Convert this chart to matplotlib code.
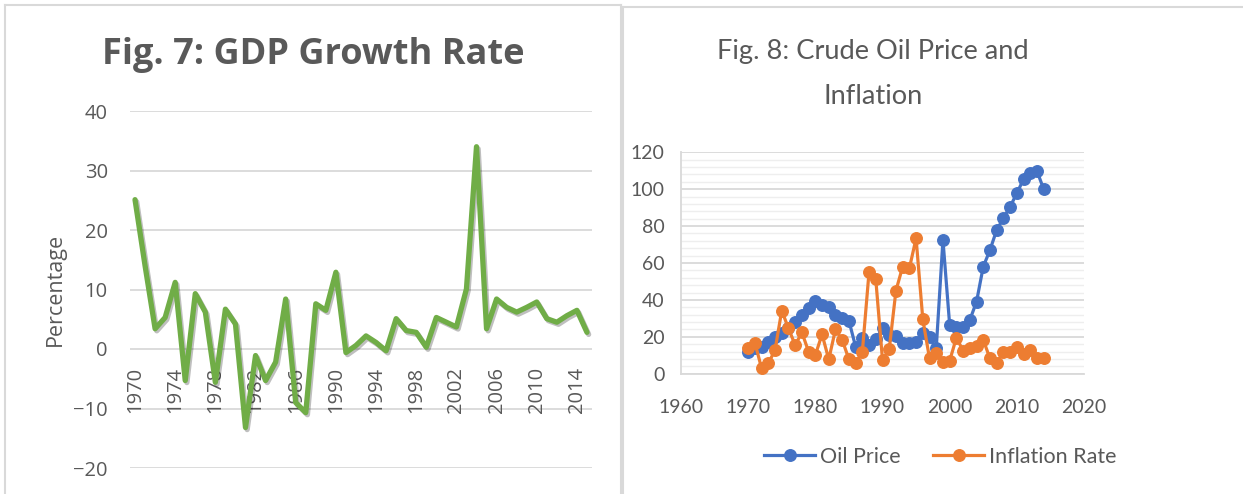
import matplotlib
matplotlib.use("Agg")
import matplotlib.pyplot as plt
import matplotlib.patheffects as pe
from matplotlib.lines import Line2D
from matplotlib.ticker import MultipleLocator
from matplotlib import font_manager as fm
import numpy as np

# ---------------- data ----------------
gdp_years = list(range(1970, 2016))
gdp_growth = [25.1, 14.0, 3.4, 5.3, 11.2, -5.3, 9.3, 6.2, -5.6, 6.7,
              4.2, -13.2, -1.1, -5.3, -2.2, 8.4, -9.0, -10.7, 7.6, 6.5,
              12.9, -0.6, 0.6, 2.2, 1.1, -0.3, 5.1, 3.1, 2.8, 0.3,
              5.3, 4.5, 3.7, 10.1, 34.0, 3.4, 8.4, 7.0, 6.2, 7.0,
              7.9, 5.1, 4.5, 5.6, 6.5, 2.8]
gdp_tick_labels = [str(y) for y in range(1970, 2016, 4)]

oil_years = list(range(1970, 2015))
oil_price = [12.0, 13.7, 14.6, 17.3, 20.0, 21.9, 24.6, 28.2, 31.8, 35.4,
             39.4, 37.2, 36.0, 31.8, 30.0, 28.7, 14.6, 19.2, 15.5, 18.6,
             24.6, 21.0, 20.4, 16.4, 16.4, 17.3, 21.9, 20.0, 13.7, 72.5,
             26.4, 25.5, 25.5, 29.1, 39.0, 58.0, 67.0, 77.9, 84.2, 90.5,
             97.8, 105.4, 108.6, 109.9, 99.9]
inflation = [13.7, 16.8, 2.9, 5.6, 12.8, 34.2, 24.6, 15.5, 22.4, 11.9,
             10.1, 21.3, 7.8, 24.0, 18.3, 7.8, 5.6, 11.9, 55.3, 51.1,
             7.4, 13.2, 45.0, 58.0, 57.1, 73.4, 29.5, 8.3, 11.4, 6.5,
             7.0, 19.5, 12.5, 13.7, 15.0, 18.3, 8.3, 5.6, 11.9, 11.9,
             14.6, 10.7, 12.8, 8.3, 8.3]

# ---------------- styling ----------------
GREEN = "#70AD47"
BLUE = "#4472C4"
ORANGE = "#ED7D31"
TXT = "#595959"
GRID = "#D9D9D9"
MINOR = "#EEEEEE"

def pick_font(cands):
    for c in cands:
        try:
            fm.findfont(fm.FontProperties(family=c), fallback_to_default=False)
            return c
        except Exception:
            continue
    return "DejaVu Sans"

RIGHTF = pick_font(["Lato", "DejaVu Sans"])
LEFTF = pick_font(["Open Sans", "DejaVu Sans"])

W, H = 1243, 494
fig = plt.figure(figsize=(W / 100, H / 100), dpi=100)
fig.patch.set_facecolor("white")

def fx(px):
    return px / W

def fy(py):
    return 1 - py / H

# panel frames
for xs, ys in [([fx(5), fx(5)], [fy(5), fy(500)]),
               ([fx(5), fx(621)], [fy(5), fy(5)]),
               ([fx(621), fx(621)], [fy(5), fy(500)]),
               ([fx(623), fx(623)], [fy(7), fy(500)]),
               ([fx(623), fx(1250)], [fy(7), fy(7)])]:
    fig.add_artist(Line2D(xs, ys, color=GRID, lw=1.5))

# ---------------- left chart ----------------
axL = fig.add_axes([fx(130), fy(468), fx(592) - fx(130), fy(111) - fy(468)])
x = np.arange(len(gdp_years))
axL.plot(x, gdp_growth, color=GREEN, lw=3.8, solid_joinstyle="round",
         solid_capstyle="round", zorder=3,
         path_effects=[pe.SimpleLineShadow(offset=(1.2, -1.5), shadow_color="black", alpha=0.25),
                       pe.Normal()])
axL.set_xlim(-0.5, len(gdp_years) - 0.5)
axL.set_ylim(-20, 40)
axL.set_yticks(range(-20, 41, 10))
axL.yaxis.grid(True, color=GRID, lw=1.3)
axL.set_axisbelow(True)
axL.yaxis.set_zorder(0.5)
axL.xaxis.set_zorder(1.5)
for s in axL.spines.values():
    s.set_visible(False)
axL.spines["bottom"].set_position(("data", 0))
tick_pos = [gdp_years.index(int(t)) for t in gdp_tick_labels]
axL.set_xticks(tick_pos)
axL.set_xticklabels(gdp_tick_labels, rotation=90, va="top", ha="center")
axL.tick_params(axis="x", length=0, pad=13, labelsize=14.5, labelcolor=TXT)
axL.tick_params(axis="y", length=0, pad=16, labelsize=14.5, labelcolor=TXT)
for lab in axL.get_xticklabels() + axL.get_yticklabels():
    lab.set_fontfamily(LEFTF)
fig.text(fx(55), fy(289), "Percentage", rotation=90, ha="center", va="center",
         fontsize=15.5, color=TXT, family=LEFTF)
fig.text(fx(313), fy(55), "Fig. 7: GDP Growth Rate", ha="center", va="center",
         fontsize=26, fontweight="bold", color=TXT, family=LEFTF)

# ---------------- right chart ----------------
axR = fig.add_axes([fx(681), fy(373.7), fx(1084) - fx(681), fy(152.3) - fy(373.7)])
axR.plot(oil_years, oil_price, color=BLUE, lw=2.3, marker="o", markersize=8.3,
         label="Oil Price", zorder=3)
axR.plot(oil_years, inflation, color=ORANGE, lw=2.3, marker="o", markersize=8.3,
         label="Inflation Rate", zorder=4)
axR.set_xlim(1960, 2020)
axR.set_ylim(0, 120)
axR.set_xticks(range(1960, 2021, 10))
axR.set_yticks(range(0, 121, 20))
axR.yaxis.set_minor_locator(MultipleLocator(4))
axR.yaxis.grid(True, which="minor", color=MINOR, lw=1.0)
axR.yaxis.grid(True, which="major", color=GRID, lw=1.3)
axR.set_axisbelow(True)
for k in ["top", "right"]:
    axR.spines[k].set_visible(False)
for k in ["left", "bottom"]:
    axR.spines[k].set_color(GRID)
    axR.spines[k].set_linewidth(1.3)
axR.tick_params(which="both", length=0)
axR.tick_params(axis="x", pad=18, labelsize=14, labelcolor=TXT)
axR.tick_params(axis="y", pad=12, labelsize=14, labelcolor=TXT)
for lab in axR.get_xticklabels() + axR.get_yticklabels():
    lab.set_fontfamily(RIGHTF)
fig.text(fx(873), fy(51), "Fig. 8: Crude Oil Price and", ha="center",
         va="center", fontsize=19.6, color=TXT, family=RIGHTF)
fig.text(fx(873), fy(96), "Inflation", ha="center",
         va="center", fontsize=19.6, color=TXT, family=RIGHTF)
leg = axR.legend(loc="center", bbox_to_anchor=(fx(940), fy(457)),
                 bbox_transform=fig.transFigure, ncol=2, frameon=False,
                 prop={"family": RIGHTF, "size": 15.5}, handlelength=2.4,
                 handletextpad=0.2, columnspacing=1.5)
for t in leg.get_texts():
    t.set_color(TXT)

fig.savefig("out.png", dpi=100, facecolor="white")
